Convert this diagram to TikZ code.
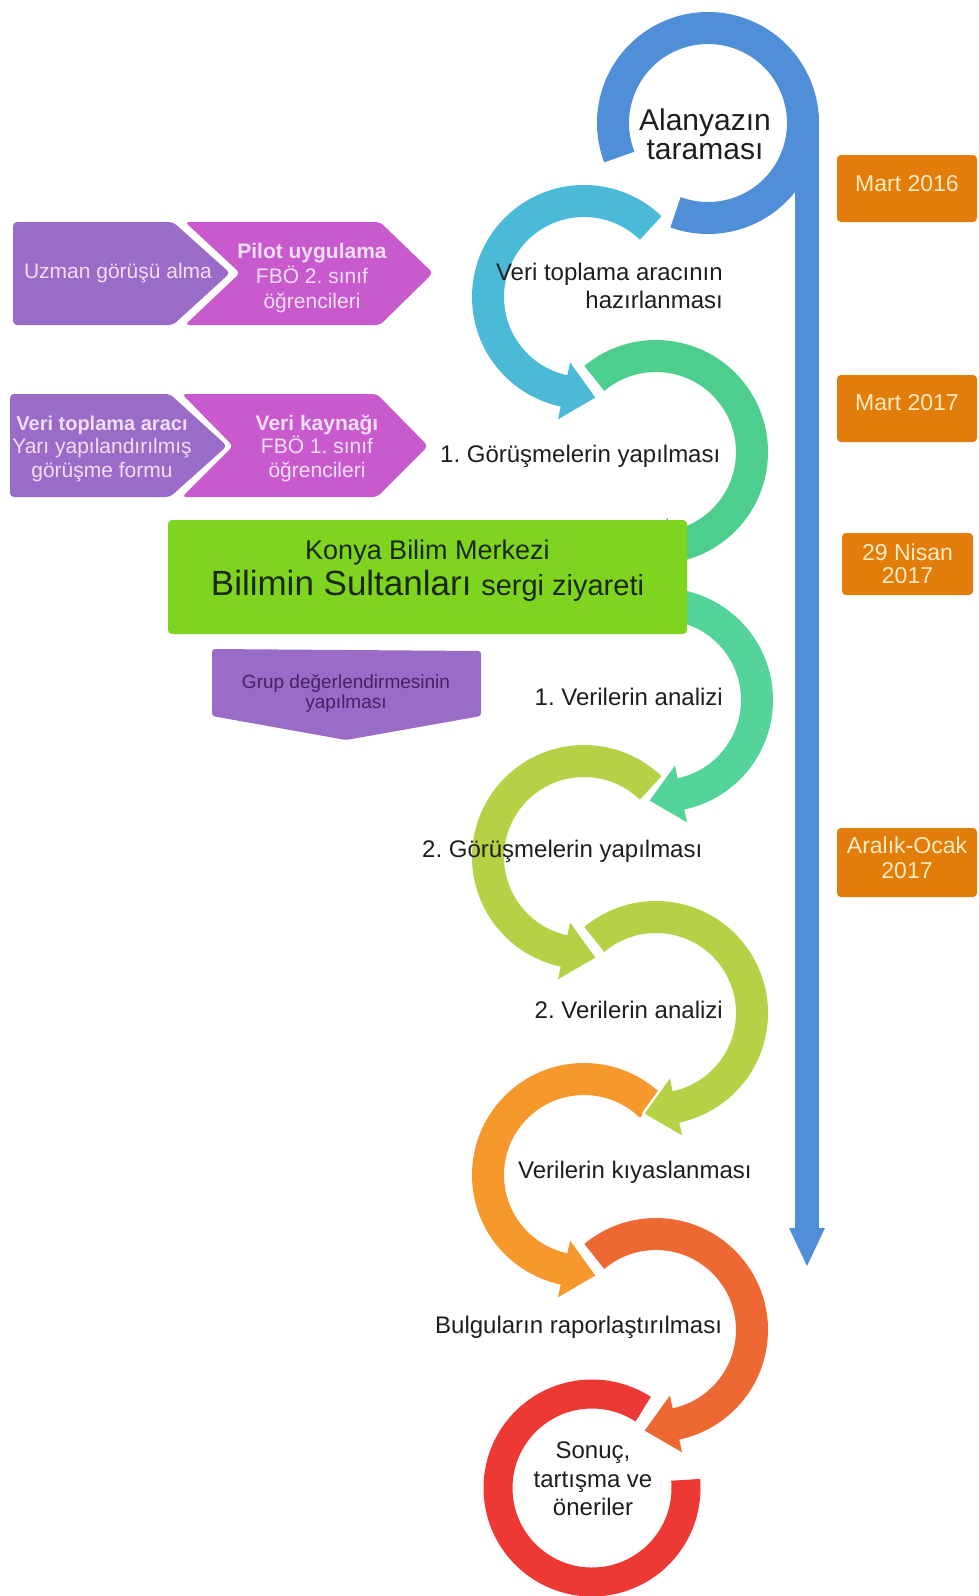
\documentclass[tikz,border=0pt]{standalone}
\usepackage{fontspec}
\setmainfont{Liberation Sans}
\usetikzlibrary{calc}
\frenchspacing
\definecolor{cblue}{RGB}{78,143,216}
\definecolor{cteal}{RGB}{74,186,214}
\definecolor{cgreenA}{RGB}{78,206,140}
\definecolor{cgreenB}{RGB}{84,212,152}
\definecolor{cyg}{RGB}{181,210,70}
\definecolor{corange}{RGB}{247,152,45}
\definecolor{corred}{RGB}{238,104,52}
\definecolor{cred}{RGB}{237,56,52}
\definecolor{cbox}{RGB}{127,212,32}
\definecolor{cboxtxt}{RGB}{25,40,15}
\definecolor{cpurple}{RGB}{155,107,200}
\definecolor{cmagenta}{RGB}{200,90,205}
\definecolor{cptxt}{RGB}{240,222,246}
\definecolor{cgruptxt}{RGB}{70,34,100}
\definecolor{cdate}{RGB}{226,124,10}
\definecolor{cdatetxt}{RGB}{255,236,192}
\definecolor{clbl}{RGB}{30,30,30}
% #1 centre, #2 start angle, #3 end angle, #4 colour, #5 tangent (+90 ccw / -90 cw), #6 +1/-1
\newcommand{\circarrow}[6]{%
  \draw[white, line width=37pt] ($(#1)+(#2:96)$) arc[start angle=#2, end angle=#3, radius=96pt];
  \filldraw[white, line width=5pt, line join=round] ($(#1)+(#3:125)$) -- ($(#1)+(#3:96)+(#3+#5:32)$) -- ($(#1)+(#3:67)$) -- cycle;
  \draw[#4, line width=32pt] ($(#1)+(#2:96)$) arc[start angle=#2, end angle={#3+#6}, radius=96pt];
  \fill[#4] ($(#1)+(#3:125)$) -- ($(#1)+(#3:96)+(#3+#5:32)$) -- ($(#1)+(#3:67)$) -- cycle;
}
\begin{document}
\frenchspacing
\begin{tikzpicture}[x=1pt,y=1pt,
  lbl/.style={inner sep=0pt, anchor=base, text=clbl, font=\fontsize{24}{28}\selectfont\frenchspacing},
  big/.style={inner sep=0pt, anchor=base, text=clbl, font=\fontsize{30}{34}\selectfont},
  ptxt/.style={inner sep=0pt, anchor=base, text=cptxt, font=\fontsize{21}{25}\selectfont\frenchspacing},
  ptxtb/.style={inner sep=0pt, anchor=base, text=cptxt, font=\fontsize{21}{25}\selectfont\bfseries},
  gtxt/.style={inner sep=0pt, anchor=base, text=cgruptxt, font=\fontsize{19}{22}\selectfont},
  datebox/.style={fill=cdate, rounded corners=4pt, inner sep=0pt},
  datetxt/.style={inner sep=0pt, anchor=base, text=cdatetxt, font=\fontsize{23}{27}\selectfont},
  btxt/.style={inner sep=0pt, anchor=base, text=cboxtxt}]
\useasboundingbox (0,0) rectangle (979,-1596);
\fill[white] (0,0) rectangle (979,-1596);

% circle centres
\coordinate (c1) at (708,-123);
\coordinate (c2) at (584,-297);
\coordinate (c3) at (656,-452);
\coordinate (c4) at (661,-700);
\coordinate (c5) at (584,-857);
\coordinate (c6) at (656,-1013);
\coordinate (c7) at (584,-1175);
\coordinate (c8) at (656,-1330);
\coordinate (c9) at (592,-1488);

% red final circle
\draw[cred, line width=29pt] ($(c9)+(5:94)$) arc[start angle=5, end angle=-303, radius=94pt];
\circarrow{c8}{130}{-78}{corred}{-90}{-1}
\circarrow{c7}{46}{258}{corange}{90}{1}
\circarrow{c6}{130}{-78}{cyg}{-90}{-1}
\circarrow{c5}{46}{258}{cyg}{90}{1}
\circarrow{c4}{95}{-78}{cgreenB}{-90}{-1}
\circarrow{c3}{130}{-80}{cgreenA}{-90}{-1}
\circarrow{c2}{46}{258}{cteal}{90}{1}
% blue first circle
\draw[cblue, line width=32pt] ($(c1)+(201:95)$) arc[start angle=201, end angle=-110, radius=95pt];

% timeline
\coordinate (t1) at (807,-123);
\coordinate (t2) at (807,-1228);
\coordinate (t3) at (807,-1266);
\draw[cblue, line width=24pt] (t1) -- (t2);
\fill[cblue] ($(t2)+(-18,0)$) -- ($(t2)+(18,0)$) -- (t3) -- cycle;

% green box
\node[fill=cbox, rounded corners=4pt, minimum width=519pt, minimum height=114pt, inner sep=0pt] (box) at (427.5,-577) {};
\node[btxt, font=\fontsize{27}{30}\selectfont] (box1) at (427.5,-559) {Konya Bilim Merkezi};
\node[btxt, font=\fontsize{35}{40}\selectfont] (box2) at (427.5,-595) {Bilimin Sultanları {\fontsize{29}{34}\selectfont sergi ziyareti}};

% purple chevrons row 1
\fill[cpurple, rounded corners=4pt] (13,-222) -- (173,-222) -- (230,-273) -- (173,-325) -- (13,-325) -- cycle;
\fill[cmagenta, rounded corners=4pt] (185,-222) -- (380,-222) -- (433,-273) -- (380,-325) -- (185,-325) -- (240,-273) -- cycle;
\node[ptxt] (uz) at (118,-278) {Uzman görüşü alma};
\node[ptxtb] (pi1) at (312,-258) {Pilot uygulama};
\node[ptxt] (pi2) at (312,-283) {FBÖ 2. sınıf};
\node[ptxt] (pi3) at (312,-308) {öğrencileri};

% purple chevrons row 2
\fill[cpurple, rounded corners=4pt] (10,-394) -- (170,-394) -- (227,-446) -- (170,-497) -- (10,-497) -- cycle;
\fill[cmagenta, rounded corners=4pt] (182,-394) -- (377,-394) -- (428,-446) -- (377,-497) -- (182,-497) -- (233,-446) -- cycle;
\node[ptxtb, font=\fontsize{20}{24}\selectfont\bfseries] (vt1) at (102,-430) {Veri toplama aracı};
\node[ptxt] (vt2) at (102,-453) {Yarı yapılandırılmış};
\node[ptxt] (vt3) at (102,-477) {görüşme formu};
\node[ptxtb] (vk1) at (317,-430) {Veri kaynağı};
\node[ptxt] (vk2) at (317,-453) {FBÖ 1. sınıf};
\node[ptxt] (vk3) at (317,-477) {öğrencileri};

% group evaluation
\fill[cpurple, rounded corners=3pt] (212,-649) -- (481,-651) -- (481,-716) -- (346,-740) -- (212,-716) -- cycle;
\node[gtxt] (gr1) at (346,-688) {Grup değerlendirmesinin};
\node[gtxt] (gr2) at (346,-708) {yapılması};

% step labels
\node[big] (a1) at (705,-130) {Alanyazın};
\node[big] (a2) at (705,-159) {taraması};
\node[lbl, anchor=base east] (s2a) at (723,-280) {Veri toplama aracının};
\node[lbl, anchor=base east] (s2b) at (723,-308) {hazırlanması};
\node[lbl, anchor=base west] (s3) at (440,-462) {1. Görüşmelerin yapılması};
\node[lbl, anchor=base east] (s4) at (723,-705) {1. Verilerin analizi};
\node[lbl, anchor=base west] (s5) at (422,-857) {2. Görüşmelerin yapılması};
\node[lbl, anchor=base east] (s6) at (723,-1018) {2. Verilerin analizi};
\node[lbl, anchor=base west] (s7) at (518,-1178) {Verilerin kıyaslanması};
\node[lbl, anchor=base west] (s8) at (435,-1333) {Bulguların raporlaştırılması};
\node[lbl] (s9a) at (593,-1458) {Sonuç,};
\node[lbl] (s9b) at (593,-1487) {tartışma ve};
\node[lbl] (s9c) at (593,-1515) {öneriler};

% dates
\node[datebox, minimum width=140pt, minimum height=67pt] (d1) at (907,-188.5) {};
\node[datetxt] (d1t) at (907,-191) {Mart 2016};
\node[datebox, minimum width=140pt, minimum height=67pt] (d2) at (907,-408.5) {};
\node[datetxt] (d2t) at (907,-410) {Mart 2017};
\node[datebox, minimum width=131pt, minimum height=62pt] (d3) at (907.5,-564) {};
\node[datetxt] (d3a) at (907.5,-560) {29 Nisan};
\node[datetxt] (d3b) at (907.5,-583) {2017};
\node[datebox, minimum width=140pt, minimum height=69pt] (d4) at (907,-862.5) {};
\node[datetxt] (d4a) at (907,-853) {Aralık-Ocak};
\node[datetxt] (d4b) at (907,-878) {2017};
\end{tikzpicture}
\end{document}
